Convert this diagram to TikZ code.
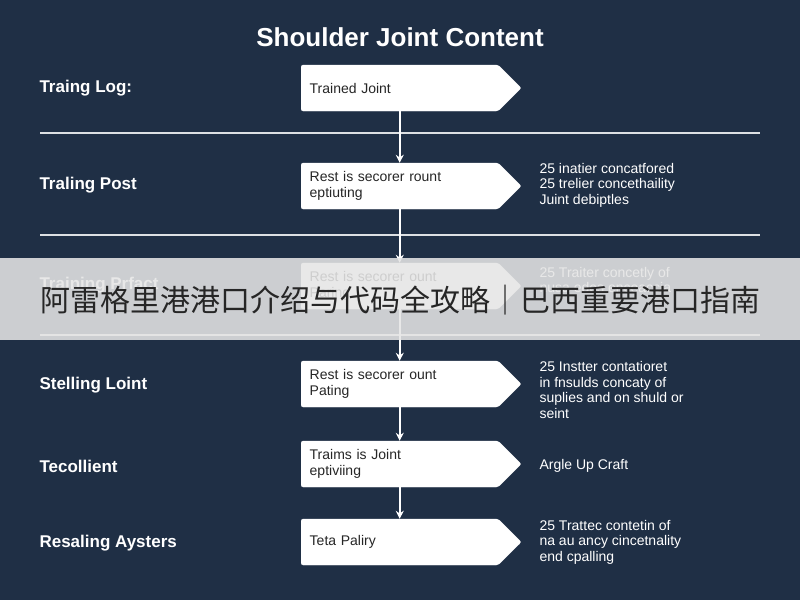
\documentclass[tikz,border=0pt]{standalone}
\usepackage{fontspec}
\setmainfont{Liberation Sans}
\newfontfamily\cjk{Noto Sans CJK SC}
\usetikzlibrary{shapes.symbols,arrows.meta}
\definecolor{bg}{HTML}{1F2F45}
\begin{document}
\begin{tikzpicture}[x=1pt,y=-1pt,
  box/.style={signal, signal to=east, signal pointer angle=90, fill=white, draw=white, rounded corners=2pt, minimum width=220pt, minimum height=46pt, text width=180pt, align=left, inner sep=2pt, anchor=west, font=\fontsize{14}{16}\selectfont, text=black!85},
  lab/.style={anchor=west, text=white, font=\bfseries\fontsize{17}{19}\selectfont},
  side/.style={anchor=west, text=white, align=left, font=\fontsize{14}{15.5}\selectfont},
  sep/.style={draw=white!85!bg, line width=1.6pt},
  arr/.style={draw=white, line width=1.6pt, -{Stealth[length=8pt,width=8pt]}}]
\fill[bg] (0,0) rectangle (800,600);
\useasboundingbox (0,0) rectangle (800,600);
\node (title) at (400,37) [text=white, font=\bfseries\fontsize{26}{30}\selectfont] {Shoulder Joint Content};
\coordinate (l1a) at (40,133); \coordinate (l1b) at (760,133);
\coordinate (l2a) at (40,235); \coordinate (l2b) at (760,235);
\coordinate (l3a) at (40,335); \coordinate (l3b) at (760,335);
\draw[sep] (l1a) -- (l1b); \draw[sep] (l2a) -- (l2b); \draw[sep] (l3a) -- (l3b);
\node[box] (b1) at (301,88) {Trained Joint};
\node[box] (b2) at (301,186) {Rest is secorer rount\\eptiuting};
\node[box] (b3) at (301,286) {Rest is secorer ount\\Paring};
\node[box] (b4) at (301,384) {Rest is secorer ount\\Pating};
\node[box] (b5) at (301,464) {Traims is Joint\\eptiviing};
\node[box] (b6) at (301,542) {Teta Paliry};
\node[lab] (t1) at (36,88) {Traing Log:};
\node[lab] (t2) at (36,185) {Traling Post};
\node[lab] (t3) at (36,285) {Training Prfact};
\node[lab] (t4) at (36,385) {Stelling Loint};
\node[lab] (t5) at (36,466) {Tecollient};
\node[lab] (t6) at (36,543) {Resaling Aysters};
\node[side] (s2) at (536,185) {25 inatier concatfored\\25 trelier concethaility\\Juint debiptles};
\node[side] (s3) at (536,280) {25 Traiter concetly of\\nusa edes enceaccia};
\node[side] (s4) at (536,390) {25 Instter contatioret\\in fnsulds concaty of\\suplies and on shuld or\\seint};
\node[side] (s5) at (536,466) {Argle Up Craft};
\node[side] (s6) at (536,542) {25 Trattec contetin of\\na au ancy cincetnality\\end cpalling};
\path[arr] (b1.south) -- (b2.north);
\path[arr] (b2.south) -- (b3.north);
\path[arr] (b3.south) -- (b4.north);
\path[arr] (b4.south) -- (b5.north);
\path[arr] (b5.south) -- (b6.north);
\fill[white!80!gray, opacity=0.88] (0,258) rectangle (800,340);
\node (banner) at (400,300) [text=black!85, font=\cjk\fontsize{30}{33}\selectfont] {阿雷格里港港口介绍与代码全攻略｜巴西重要港口指南};
\end{tikzpicture}
\end{document}
